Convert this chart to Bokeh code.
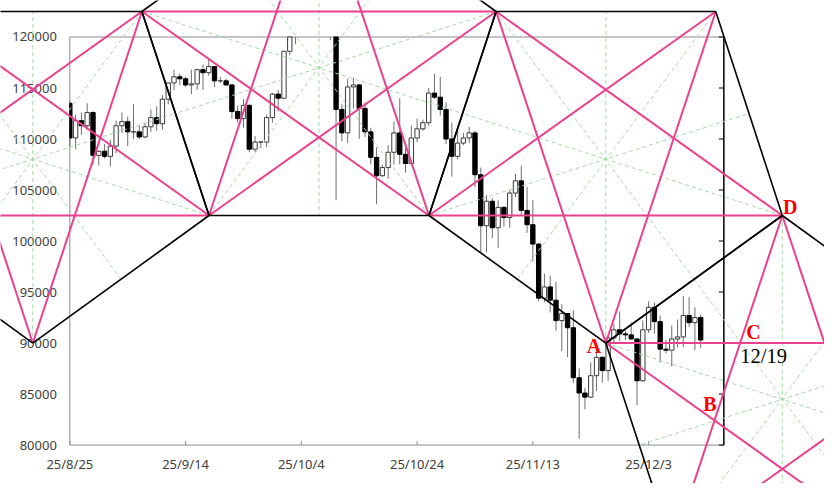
import numpy as np
import pandas as pd
from bokeh.plotting import figure
from bokeh.models import Range1d, ColumnDataSource
from bokeh.embed import file_html
from bokeh.resources import INLINE
from bokeh.core.properties import value

# ---------------- data ----------------
start_date = "2025-08-25"
end_date = "2025-12-12"
axis_end_date = "2025-12-16"

opens = [
    113500, 110100, 111800, 111300, 112600, 108400, 108800,
    108300, 109300, 111300, 111700, 110700, 110700, 110200, 111200, 112100, 111500,
    113900, 115500, 116100, 115900, 115300, 115400, 116800, 116500, 117100, 115700,
    115700, 115300, 112700, 112000, 113300, 109000, 109700, 109700, 112100, 114400,
    114000, 118600, 120600, 122300, 122400, 123500, 124700, 121400, 123300, 121700,
    112900, 110600, 115100, 115300, 113000, 110700, 108200, 106400, 107200, 108700,
    110600, 108500, 107600, 110100, 111000, 111600, 114500, 114100, 112900, 110000,
    108300,
    109600, 110100, 110600, 106500, 101500, 103900, 101300, 103300, 102300, 104700,
    105900, 103000, 101600, 99700, 94400, 95500, 94200, 92200, 92900, 91500,
    86600, 85100, 84700, 86800, 88600, 87300, 90500, 91300, 90900, 90800,
    90400, 86300, 91300, 93500, 92100, 89400, 89300, 90400, 90600, 92700, 92000, 92500]
highs = [
    113700, 112400, 112600, 113500, 112700, 108900, 109500,
    109900, 111800, 112600, 112200, 113400, 111300, 111600, 112900, 113200, 114300,
    115500, 116800, 116400, 116100, 116800, 116900, 117300, 117900, 117100, 116100,
    115900, 115400, 113300, 113900, 113400, 110300, 109800, 112400, 114500, 114800,
    118600, 121000, 123900, 122900, 125700, 126200, 125200, 124100, 123800, 122500,
    113400, 115900, 116000, 115400, 113600, 111100, 109200, 107500, 109400, 111700,
    114000, 109100, 111300, 112000, 111900, 115000, 116400, 116100, 113600, 111600,
    111200,
    110600, 111200, 110800, 107200, 104500, 104200, 104000, 103400, 105000, 106600,
    107400, 105300, 104000, 99800, 96800, 96600, 96000, 93800, 92900, 93200,
    87500, 85600, 88100, 89200, 88700, 90600, 91900, 93100, 91200, 92000,
    90400, 92200, 94100, 94000, 92700, 90300, 91700, 92300, 94600, 94500, 93500, 92800]
lows = [
    109300, 109000, 110400, 110900, 107500, 107400, 108100,
    107300, 108600, 110600, 109300, 110000, 110000, 110100, 110700, 110800, 110900,
    113400, 114800, 115300, 115100, 114400, 114800, 114800, 116200, 115100, 115500,
    115200, 112000, 111600, 111100, 108700, 108700, 109100, 109200, 111600, 112700,
    113900, 118200, 119300, 121700, 122000, 123000, 120600, 121100, 119700, 104000,
    109800, 109600, 113000, 110000, 110200, 107500, 103600, 106300, 106100, 107500,
    107500, 106700, 107500, 109700, 110800, 111300, 113900, 112300, 109500, 106300,
    108000,
    109400, 109600, 105300, 98900, 98900, 100300, 99300, 101400, 101300, 104300,
    102500, 100800, 98000, 94100, 94000, 93000, 91200, 89200, 88600, 86100,
    80600, 83500, 84600, 85300, 86100, 86300, 90100, 90200, 90300, 90300,
    83900, 86200, 91000, 90900, 88100, 89000, 87700, 89600, 89600, 91600, 89300, 89500]
closes = [
    110100, 111800, 111300, 112600, 108400, 108800, 108300,
    109300, 111300, 111700, 110700, 110700, 110200, 111200, 112100, 111500, 113900,
    115500, 116100, 115900, 115300, 115400, 116800, 116500, 117100, 115700, 115700,
    115300, 112700, 112000, 113300, 109000, 109700, 109700, 112100, 114400, 114000,
    118600, 120600, 122300, 122400, 123500, 124700, 121400, 123300, 121700, 112900,
    110600, 115100, 115300, 113000, 110700, 108200, 106400, 107200, 108700, 110600,
    108500, 107600, 110100, 111000, 111600, 114500, 114100, 112900, 110000, 108300,
    109600,
    110100, 110600, 106500, 101500, 103900, 101300, 103300, 102300, 104700, 105900,
    103000, 101600, 99700, 94400, 95500, 94200, 92200, 92900, 91500, 86600,
    85100, 84700, 86800, 88600, 87300, 90500, 91300, 90900, 90800, 90400,
    86300, 91300, 93500, 92100, 89400, 89300, 90400, 90600, 92700, 92000, 92500, 90300]

x_tick_dates = ["2025-08-25", "2025-09-14", "2025-10-04", "2025-10-24", "2025-11-13", "2025-12-03"]
x_tick_labels = ["25/8/25", "25/9/14", "25/10/4", "25/10/24", "25/11/13", "25/12/3"]
y_ticks = [80000, 85000, 90000, 95000, 100000, 105000, 110000, 115000, 120000]
y_min, y_max = 80000, 120000

# pentagon vertices (day offset from 2025-08-25, price), listed around each pentagon
pent_day = [
    [-6.4, 24.05, 12.45, -25.25, -36.9],
    [43.05, 73.65, 62.05, 24.05, 12.45],
    [92.6, 123.1, 111.6, 73.65, 62.05],
    [123.1, 153.6, 142.05, 104.15, 92.6],
]
pent_price = [
    [90000, 102500, 122500, 122500, 102500],
    [135000, 122500, 102500, 102500, 122500],
    [90000, 102500, 122500, 122500, 102500],
    [102500, 90000, 70000, 70000, 90000],
]

label_text = ["A", "B", "C", "D", "12/19"]
label_day = [90.56, 110.61, 118.10, 124.46, 119.88]
label_price = [89680, 84060, 91100, 103340, 88730]
label_color = ["#ff0000", "#ff0000", "#ff0000", "#ff0000", "#000000"]
label_weight = ["bold", "bold", "bold", "bold", "normal"]
label_size = ["20px", "20px", "20px", "20px", "20.5px"]

# ---------------- figure ----------------
W, H = 824, 483
x0r, x1r = -11.98, 130.39
y0r, y1r = 76232, 123577
px_day = W / (x1r - x0r)
px_price = H / (y1r - y0r)

p = figure(width=W, height=H, output_backend="svg", toolbar_location=None,
           x_range=Range1d(x0r, x1r), y_range=Range1d(y0r, y1r),
           x_axis_type=None, y_axis_type=None, min_border=0)
p.outline_line_color = None
p.grid.visible = False
p.background_fill_color = "white"
p.border_fill_color = "white"

t0 = pd.Timestamp(start_date)
days = np.array([(d - t0).days for d in pd.date_range(start_date, end_date, freq="D")], dtype=float)
axis_end = float((pd.Timestamp(axis_end_date) - t0).days)
xt = np.array([(pd.Timestamp(d) - t0).days for d in x_tick_dates], dtype=float)

o = np.array(opens, float); h = np.array(highs, float)
l = np.array(lows, float); c = np.array(closes, float)

# plot-area frame
p.segment(x0=[0, 0], y0=[y_max, y_min], x1=[axis_end, axis_end], y1=[y_max, y_min],
          line_color="#8c8c8c", line_width=1)
p.segment(x0=[0], y0=[y_min], x1=[0], y1=[y_max], line_color="#8c8c8c", line_width=1)
p.segment(x0=[axis_end], y0=[y_min], x1=[axis_end], y1=[y_max], line_color="#000000", line_width=1.5)
yt = np.array(y_ticks, float)
p.segment(x0=np.full(len(yt), axis_end), y0=yt, x1=np.full(len(yt), axis_end - 5 / px_day), y1=yt,
          line_color="#000000", line_width=1)
p.segment(x0=xt, y0=np.full(len(xt), y_min), x1=xt, y1=np.full(len(xt), y_min + 4 / px_price),
          line_color="#8c8c8c", line_width=1)

# tick labels
p.text(x=np.zeros(len(yt)), y=yt, text=[str(v) for v in y_ticks], x_offset=-13,
       text_align="right", text_baseline="middle", text_font=value("Noto Sans"),
       text_font_size="13px", text_color="#404040")
p.text(x=xt, y=np.full(len(xt), y_min), text=x_tick_labels, y_offset=19,
       text_align="center", text_baseline="middle", text_font=value("Noto Sans"),
       text_font_size="13px", text_color="#404040")

# candles (clipped to the plot area)
vis = l < y_max
wick = ColumnDataSource(dict(x=days[vis], lo=np.clip(l[vis], y_min, y_max), hi=np.clip(h[vis], y_min, y_max)))
p.segment(x0="x", y0="lo", x1="x", y1="hi", source=wick, line_color="#6e6e6e", line_width=1)
bw = 0.75
top = np.clip(np.maximum(o, c), y_min, y_max)
bot = np.clip(np.minimum(o, c), y_min, y_max)
left = np.clip(days - bw / 2, 0, None)
right = days + bw / 2
up = (c >= o) & (bot < y_max)
dn = (c < o) & (bot < y_max)
p.quad(left=left[up], right=right[up], top=top[up], bottom=bot[up],
       fill_color="white", line_color="#3a3a3a", line_width=1)
p.quad(left=left[dn], right=right[dn], top=top[dn], bottom=bot[dn],
       fill_color="black", line_color="black", line_width=1)

# pentagon geometry
sx0, sy0, sx1, sy1 = [], [], [], []
dx0, dy0, dx1, dy1 = [], [], [], []
gx0, gy0, gx1, gy1 = [], [], [], []
for pd_, pp_ in zip(pent_day, pent_price):
    for i in range(5):
        j = (i + 1) % 5; k = (i + 2) % 5; m = (i + 3) % 5
        sx0.append(pd_[i]); sy0.append(pp_[i]); sx1.append(pd_[j]); sy1.append(pp_[j])
        dx0.append(pd_[i]); dy0.append(pp_[i]); dx1.append(pd_[k]); dy1.append(pp_[k])
        gx0.append(pd_[i]); gy0.append(pp_[i])
        gx1.append((pd_[k] + pd_[m]) / 2); gy1.append((pp_[k] + pp_[m]) / 2)

p.segment(x0=gx0, y0=gy0, x1=gx1, y1=gy1, line_color="#a6d9a6", line_width=1, line_dash="4 3")
p.segment(x0=dx0, y0=dy0, x1=dx1, y1=dy1, line_color="#ec3f8e", line_width=2)
p.segment(x0=sx0, y0=sy0, x1=sx1, y1=sy1, line_color="#000000", line_width=1.6)

# annotations
lab = ColumnDataSource(dict(x=label_day, y=label_price, t=label_text, c=label_color,
                            w=label_weight, s=label_size))
p.text(x="x", y="y", text="t", text_color="c", text_font_style="w", text_font_size="s",
       text_font=value("Liberation Serif"), text_align="center", text_baseline="middle",
       source=lab)

open("out.html", "w").write(file_html(p, INLINE))
